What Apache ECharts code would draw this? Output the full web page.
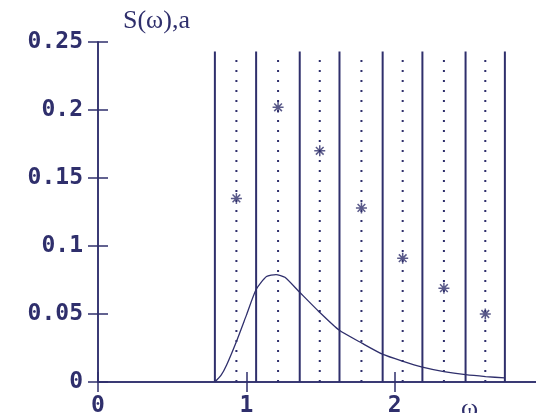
<!DOCTYPE html>
<html><head><meta charset="utf-8">
<script src="https://cdn.jsdelivr.net/npm/echarts@6/dist/echarts.min.js"></script>
<style>html,body{margin:0;padding:0;background:#fff}#c{width:536px;height:413px}</style>
</head><body><div id="c"></div>
<script>
const bandEdges = [0.788, 1.066, 1.360, 1.628, 1.919, 2.187, 2.478, 2.743];
const bandCenters = [0.933, 1.214, 1.495, 1.776, 2.054, 2.332, 2.611];
const amplitudes = [0.135, 0.202, 0.170, 0.128, 0.091, 0.069, 0.050];
const curveW = [0.788, 0.83, 0.867, 0.934, 1.0, 1.066, 1.136, 1.2, 1.26, 1.356, 1.49, 1.625, 1.782, 1.917, 2.052, 2.187, 2.332, 2.478, 2.613, 2.743];
const curveS = [0.0, 0.005, 0.0125, 0.030, 0.049, 0.068, 0.0775, 0.079, 0.077, 0.0664, 0.0517, 0.0382, 0.0284, 0.0205, 0.0154, 0.0110, 0.0077, 0.0054, 0.0040, 0.0030];
const xTicks = [0, 1, 2, 3];
const yTicks = [0, 0.05, 0.1, 0.15, 0.2, 0.25];
const solidTop = 0.243, dotTop = 0.24;

const C = '#2f2f6c';
const chart = echarts.init(document.getElementById('c'), null, {renderer: 'canvas'});
const tickLabel = {color: C, fontFamily: 'DejaVu Sans Mono', fontWeight: 'bold', fontSize: 23};
const axLine = {show: true, lineStyle: {color: C, width: 1.5}};
const axTick = {show: true, inside: true, length: 10, lineStyle: {color: C, width: 1.5}};

function vline(dash, top, width) {
  return function (params, api) {
    const x = api.value(0);
    const p0 = api.coord([x, 0]);
    const p1 = api.coord([x, top]);
    return {type: 'line', shape: {x1: p0[0], y1: p0[1], x2: p1[0], y2: p1[1]},
      style: {stroke: C, lineWidth: width, lineDash: dash}};
  };
}

chart.setOption({
  animation: false,
  grid: {left: 98, top: 42, width: 445, height: 340, containLabel: false, outerBoundsMode: 'none'},
  xAxis: [
    {type: 'value', min: xTicks[0], max: xTicks[xTicks.length - 1], interval: 1, position: 'bottom',
      axisLine: axLine, axisTick: axTick, splitLine: {show: false},
      axisLabel: Object.assign({margin: 13, showMaxLabel: true, showMinLabel: true, hideOverlap: false}, tickLabel)},
    {type: 'value', min: xTicks[0], max: xTicks[xTicks.length - 1], interval: 1, position: 'top',
      axisLine: axLine, axisTick: axTick, splitLine: {show: false}, axisLabel: {show: false}}
  ],
  yAxis: [
    {type: 'value', min: yTicks[0], max: yTicks[yTicks.length - 1], interval: 0.05, position: 'left',
      axisLine: axLine, axisTick: axTick, splitLine: {show: false},
      axisLabel: Object.assign({margin: 15}, tickLabel)},
    {type: 'value', min: yTicks[0], max: yTicks[yTicks.length - 1], interval: 0.05, position: 'right',
      axisLine: axLine, axisTick: axTick, splitLine: {show: false}, axisLabel: {show: false}}
  ],
  series: [
    {type: 'custom', renderItem: vline(null, solidTop, 2), data: bandEdges.map(v => [v]), encode: {x: 0}, silent: true},
    {type: 'custom', renderItem: vline([2, 8], dotTop, 2), data: bandCenters.map(v => [v]), encode: {x: 0}, silent: true},
    {type: 'line', data: curveW.map((w, i) => [w, curveS[i]]), smooth: 0.2, showSymbol: false,
      lineStyle: {color: C, width: 1.3}},
    {type: 'scatter', data: bandCenters.map((w, i) => [w, amplitudes[i]]), symbolSize: 11,
      symbol: 'path://M0,-5L0,5M-5,0L5,0M-3.5,-3.5L3.5,3.5M-3.5,3.5L3.5,-3.5',
      itemStyle: {color: 'rgba(0,0,0,0)', borderColor: C, borderWidth: 1.5}}
  ],
  graphic: [
    {type: 'text', left: 123, top: 8, style: {text: 'S(ω),a', fill: C, font: '26px "Liberation Serif"'}},
    {type: 'text', left: 461, top: 396, style: {text: 'ω', fill: C, font: '26px "Liberation Serif"'}}
  ]
});
</script></body></html>
